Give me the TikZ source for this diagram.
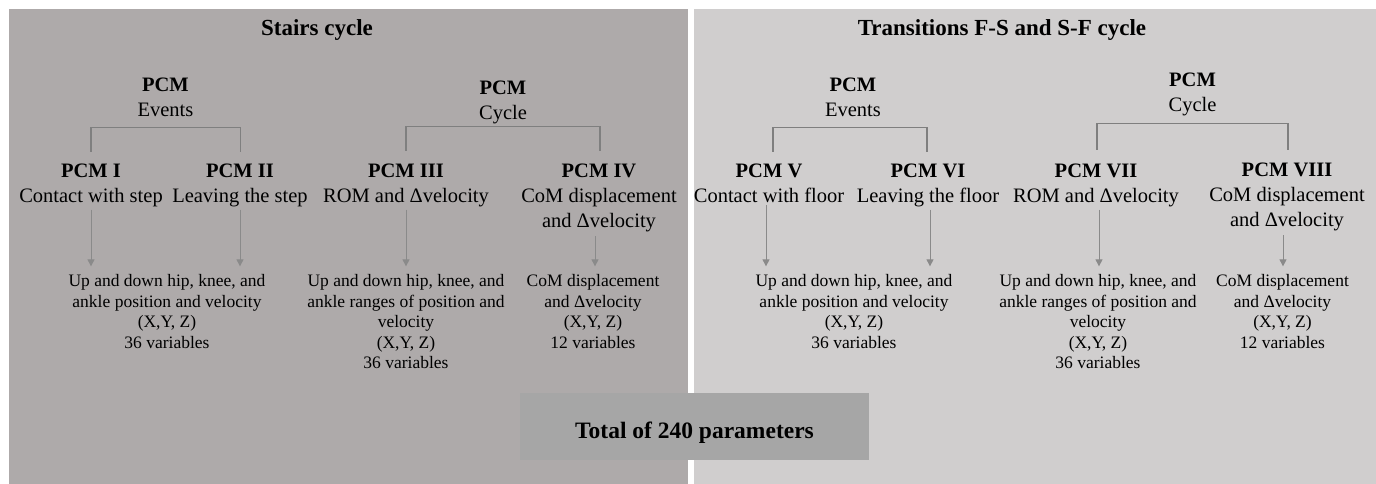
\documentclass[tikz,border=0pt]{standalone}
\usepackage{fontspec}
\setmainfont{Liberation Serif}
\usetikzlibrary{arrows.meta}
\definecolor{panelL}{HTML}{AEAAAA}
\definecolor{panelR}{HTML}{D0CECE}
\definecolor{totalc}{HTML}{A6A6A6}
\definecolor{linec}{HTML}{7F7F7F}
\definecolor{arrc}{HTML}{8A8A8A}
\begin{document}
\begin{tikzpicture}[x=1pt,y=-1pt,
  title/.style={font=\fontsize{23}{27}\selectfont\bfseries, anchor=base, inner sep=0},
  pcm/.style={font=\fontsize{20.5}{25}\selectfont, anchor=base, inner sep=0, align=center},
  low/.style={font=\fontsize{17.5}{20.5}\selectfont, anchor=base, inner sep=0, align=center},
  brk/.style={draw=linec, line width=1.3pt},
  arr/.style={draw=arrc, line width=1pt, -{Triangle[width=7pt,length=7pt]}, shorten >=8pt}]
\useasboundingbox (0,0) rectangle (1376,484);
\fill[panelL] (9,9) rectangle (688.3,484);
\fill[panelR] (694.3,9) rectangle (1376,484);

% titles
\node[title] (t1) at (317,35.7) {Stairs cycle};
\node[title] (t2) at (1002,35.7) {Transitions F-S and S-F cycle};

% headers (anchored at the baseline of the last line)
\node[pcm] (h1) at (165.5,116.7) {\textbf{PCM}\\Events};
\node[pcm] (h2) at (503,119.5) {\textbf{PCM}\\Cycle};
\node[pcm] (h3) at (853,116.7) {\textbf{PCM}\\Events};
\node[pcm] (h4) at (1192.5,111.7) {\textbf{PCM}\\Cycle};

% brackets
\coordinate (b1a) at (91,152); \coordinate (b1b) at (91,127.7);
\coordinate (b1c) at (240.7,127.7); \coordinate (b1d) at (240.7,152);
\draw[brk] (b1a) -- (b1b) -- (b1c) -- (b1d);
\coordinate (b2a) at (406,150.7); \coordinate (b2b) at (406,126.7);
\coordinate (b2c) at (600,126.7); \coordinate (b2d) at (600,150.7);
\draw[brk] (b2a) -- (b2b) -- (b2c) -- (b2d);
\coordinate (b3a) at (773,152); \coordinate (b3b) at (773,127.7);
\coordinate (b3c) at (927,127.7); \coordinate (b3d) at (927,152);
\draw[brk] (b3a) -- (b3b) -- (b3c) -- (b3d);
\coordinate (b4a) at (1097,150); \coordinate (b4b) at (1097,123.3);
\coordinate (b4c) at (1288,123.3); \coordinate (b4d) at (1288,150);
\draw[brk] (b4a) -- (b4b) -- (b4c) -- (b4d);

% PCM nodes
\node[pcm] (p1) at (91,202) {\textbf{PCM I}\\Contact with step};
\node[pcm] (p2) at (240,202) {\textbf{PCM II}\\Leaving the step};
\node[pcm] (p3) at (406,202) {\textbf{PCM III}\\ROM and Δvelocity};
\node[pcm] (p4) at (599,227.5) {\textbf{PCM IV}\\CoM displacement\\and Δvelocity};
\node[pcm] (p5) at (769,202) {\textbf{PCM V}\\Contact with floor};
\node[pcm] (p6) at (928,202) {\textbf{PCM VI}\\Leaving the floor};
\node[pcm] (p7) at (1096,202) {\textbf{PCM VII}\\ROM and Δvelocity};
\node[pcm] (p8) at (1287,226.5) {\textbf{PCM VIII}\\CoM displacement\\and Δvelocity};

% lower texts
\node[low] (l1) at (167,348.2) {Up and down hip, knee, and\\ankle position and velocity\\(X,Y, Z)\\36 variables};
\node[low] (l2) at (406,368.7) {Up and down hip, knee, and\\ankle ranges of position and\\velocity\\(X,Y, Z)\\36 variables};
\node[low] (l3) at (593,348.2) {CoM displacement\\and Δvelocity\\(X,Y, Z)\\12 variables};
\node[low] (l4) at (854,348.2) {Up and down hip, knee, and\\ankle position and velocity\\(X,Y, Z)\\36 variables};
\node[low] (l5) at (1098,368.7) {Up and down hip, knee, and\\ankle ranges of position and\\velocity\\(X,Y, Z)\\36 variables};
\node[low] (l6) at (1282.5,348.2) {CoM displacement\\and Δvelocity\\(X,Y, Z)\\12 variables};

% arrows
\draw[arr] ([yshift=-3pt]p1.south) -- (p1.south |- l1.north);
\draw[arr] ([yshift=-3pt]p2.south) -- (p2.south |- l1.north);
\draw[arr] ([yshift=-3pt]p3.south) -- (p3.south |- l2.north);
\draw[arr] ([xshift=-4pt,yshift=-4pt]p4.south) -- ([xshift=-4pt]p4.south |- l3.north);
\draw[arr] ([xshift=-3pt,yshift=-3pt]p5.south) -- ([xshift=-3pt]p5.south |- l4.north);
\draw[arr] ([xshift=2pt,yshift=-3pt]p6.south) -- ([xshift=2pt]p6.south |- l4.north);
\draw[arr] ([xshift=3pt,yshift=-3pt]p7.south) -- ([xshift=3pt]p7.south |- l5.north);
\draw[arr] ([xshift=-4pt,yshift=-4pt]p8.south) -- ([xshift=-4pt]p8.south |- l6.north);

% total
\node[fill=totalc, anchor=base, inner sep=0, text height=45.6pt, text depth=21.7pt,
      minimum width=349pt, font=\fontsize{23.5}{28}\selectfont\bfseries] (tot) at (694.5,438.3) {Total of 240 parameters};
\end{tikzpicture}
\end{document}
